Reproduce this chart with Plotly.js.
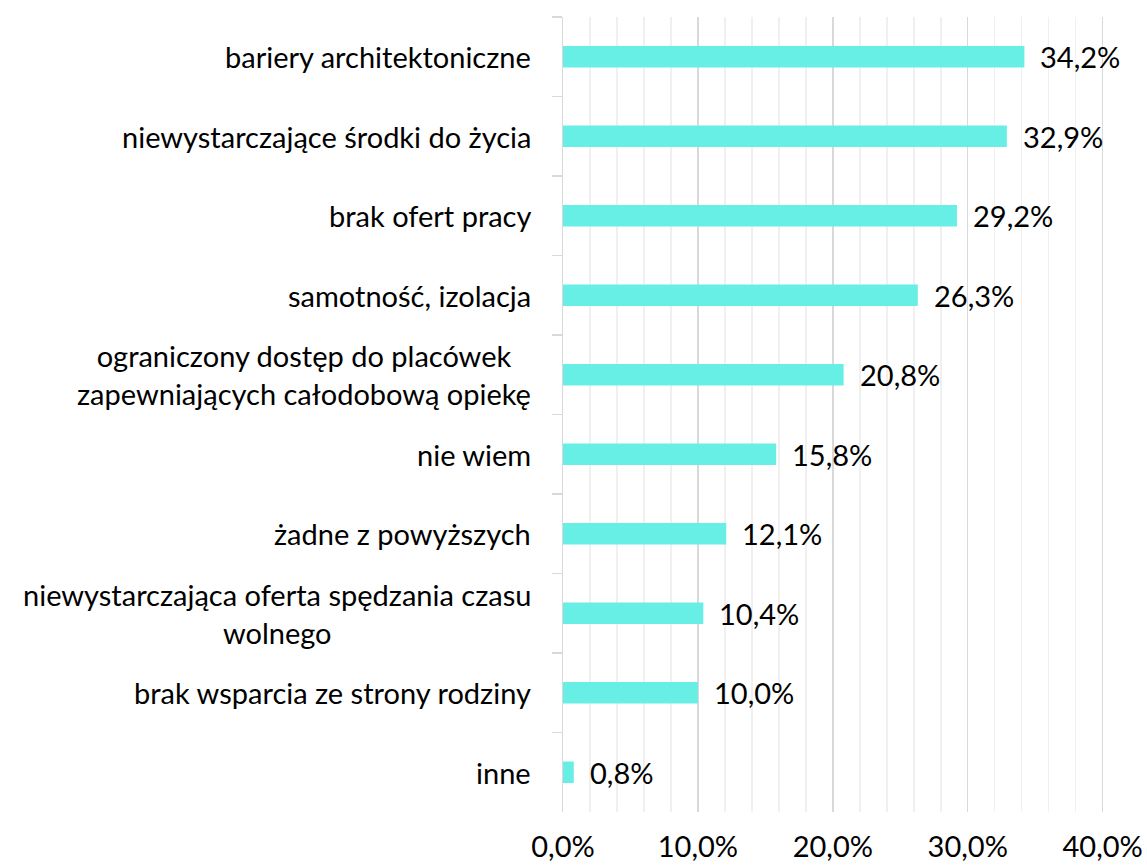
<!DOCTYPE html>
<html>
<head>
<meta charset="utf-8">
<script src="https://cdn.plot.ly/plotly-3.0.1.min.js"></script>
<style>html,body{margin:0;padding:0;background:#fff;}#chart{width:1147px;height:866px;}</style>
</head>
<body>
<div id="chart"></div>
<script>
const categories = [
  "bariery architektoniczne",
  "niewystarczające środki do życia",
  "brak ofert pracy",
  "samotność, izolacja",
  "ograniczony dostęp do placówek<br>zapewniających całodobową opiekę",
  "nie wiem",
  "żadne z powyższych",
  "niewystarczająca oferta spędzania czasu<br>wolnego",
  "brak wsparcia ze strony rodziny",
  "inne"
];
const values = [34.2, 32.9, 29.2, 26.3, 20.8, 15.8, 12.1, 10.4, 10.0, 0.8];
const xTicks = [0, 10, 20, 30, 40];

const FONT = "Lato, 'Open Sans', sans-serif";
const FS = 29;
const fmt = v => v.toFixed(1).replace('.', ',') + '%';

const trace = {
  type: 'bar',
  orientation: 'h',
  x: values,
  y: categories,
  marker: {color: '#67efe5'},
  width: 0.27,
  hoverinfo: 'skip'
};

const annotations = [];
categories.forEach((c, i) => {
  annotations.push({
    xref: 'paper', yref: 'y', x: 0, y: c,
    text: c, showarrow: false, xanchor: 'right', yanchor: 'middle',
    align: 'center', xshift: -30,
    font: {family: FONT, size: FS, color: '#000'}
  });
  annotations.push({
    xref: 'x', yref: 'y', x: values[i], y: c,
    text: fmt(values[i]), showarrow: false, xanchor: 'left', yanchor: 'middle',
    xshift: 14,
    font: {family: FONT, size: FS, color: '#000'}
  });
});

const layout = {
  width: 1147, height: 866,
  margin: {l: 563, r: 42.6, t: 17, b: 54},
  paper_bgcolor: '#fff', plot_bgcolor: '#fff',
  showlegend: false,
  separators: ',.',
  font: {family: FONT, size: FS, color: '#000'},
  xaxis: {
    range: [0, 40.1],
    tickvals: xTicks,
    ticktext: xTicks.map(v => v.toFixed(1).replace('.', ',') + '%'),
    showgrid: true, gridcolor: '#d9d9d9', gridwidth: 1.5,
    minor: {dtick: 2, tick0: 0, showgrid: true, gridcolor: '#f0f0f0', gridwidth: 1.5, ticks: ''},
    zeroline: false, showline: false, ticks: '',
    ticklabelstandoff: 15,
    tickfont: {family: FONT, size: FS, color: '#000'},
    fixedrange: true
  },
  yaxis: {
    type: 'category',
    categoryorder: 'array',
    categoryarray: categories,
    autorange: 'reversed',
    showticklabels: false,
    showgrid: false, zeroline: false,
    showline: true, linecolor: '#d9d9d9', linewidth: 1.5,
    ticks: 'outside', ticklen: 10, tickcolor: '#d9d9d9', tickwidth: 1.5,
    tickson: 'boundaries',
    fixedrange: true
  },
  annotations: annotations
};

Plotly.newPlot('chart', [trace], layout, {staticPlot: true, displayModeBar: false});
</script>
</body>
</html>
